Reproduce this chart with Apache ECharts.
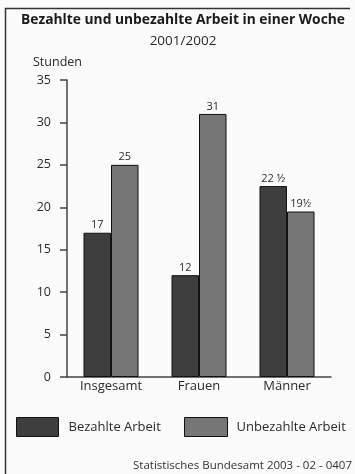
<!DOCTYPE html>
<html><head><meta charset="utf-8">
<script src="https://cdn.jsdelivr.net/npm/echarts@6/dist/echarts.min.js"></script>
<style>html,body{margin:0;padding:0;background:#fbfbfb}#c{width:355px;height:474px}</style>
</head><body><div id="c"></div>
<script>
var categories = ['Insgesamt', 'Frauen', 'Männer'];
var paidValues = [17, 12, 22.5];
var unpaidValues = [25, 31, 19.5];
var paidLabels = ['17', '12', '22 ½'];
var unpaidLabels = ['25', '31', '19½'];
var seriesNames = ['Bezahlte Arbeit', 'Unbezahlte Arbeit'];
var titleText = 'Bezahlte und unbezahlte Arbeit in einer Woche';
var subtitleText = '2001/2002';
var unitText = 'Stunden';
var sourceText = 'Statistisches Bundesamt 2003 - 02 - 0407';

var FONT = 'Open Sans';
var chart = echarts.init(document.getElementById('c'));
chart.setOption({
  backgroundColor: '#fbfbfb',
  animation: false,
  textStyle: {fontFamily: FONT},
  title: [{
    text: titleText, left: 183, textAlign: 'center', top: 13, padding: 0,
    textStyle: {fontFamily: FONT, fontSize: 13.8, fontWeight: 'bold', color: '#1a1a1a'}
  }, {
    text: subtitleText, left: 183, textAlign: 'center', top: 34, padding: 0,
    textStyle: {fontFamily: FONT, fontSize: 13.5, fontWeight: 'normal', color: '#2a2a2a'}
  }, {
    text: sourceText, right: 3, top: 460, padding: 0,
    textStyle: {fontFamily: FONT, fontSize: 11.5, fontWeight: 'normal', color: '#333'}
  }],
  legend: [{
    data: [seriesNames[0]], left: 16, top: 417, padding: 0, icon: 'rect',
    itemWidth: 42, itemHeight: 19,
    itemStyle: {borderColor: '#111', borderWidth: 1},
    textStyle: {fontFamily: FONT, fontSize: 13, color: '#2a2a2a', padding: [0, 0, 0, 5]}
  }, {
    data: [seriesNames[1]], left: 184, top: 417, padding: 0, icon: 'rect',
    itemWidth: 43, itemHeight: 19,
    itemStyle: {borderColor: '#111', borderWidth: 1},
    textStyle: {fontFamily: FONT, fontSize: 13, color: '#2a2a2a', padding: [0, 0, 0, 4]}
  }],
  grid: {left: 67, right: 24, top: 80, bottom: 97},
  xAxis: {
    type: 'category', data: categories,
    axisLine: {lineStyle: {color: '#444', width: 1.5}},
    axisTick: {show: false},
    axisLabel: {fontFamily: FONT, fontSize: 13, color: '#2a2a2a', margin: 3}
  },
  yAxis: {
    type: 'value', min: 0, max: 35, interval: 5,
    name: unitText, nameLocation: 'end', nameGap: 11,
    nameTextStyle: {fontFamily: FONT, fontSize: 12.5, color: '#2a2a2a', align: 'left', padding: [0, 0, 0, -34]},
    axisLine: {show: true, lineStyle: {color: '#444', width: 1.5}},
    axisTick: {show: true, length: 7, lineStyle: {color: '#444', width: 1.5}},
    axisLabel: {fontFamily: FONT, fontSize: 12.5, color: '#2a2a2a', margin: 16},
    splitLine: {show: false}
  },
  graphic: [{
    type: 'polyline', silent: true,
    shape: {points: [[5.5, 474], [5.5, 8.5], [350, 8.5]]},
    style: {stroke: '#333', lineWidth: 1.5, fill: null}
  }],
  series: [{
    name: seriesNames[0], type: 'bar', data: paidValues,
    barWidth: 27.5, barGap: '0%',
    itemStyle: {color: '#3e3e3e', borderColor: '#111', borderWidth: 1},
    label: {show: true, position: 'top', distance: 2, fontFamily: FONT, fontSize: 11, color: '#2a2a2a',
      formatter: function (p) { return paidLabels[p.dataIndex]; }}
  }, {
    name: seriesNames[1], type: 'bar', data: unpaidValues,
    barWidth: 27.5, barGap: '0%',
    itemStyle: {color: '#767676', borderColor: '#111', borderWidth: 1},
    label: {show: true, position: 'top', distance: 2, fontFamily: FONT, fontSize: 11, color: '#2a2a2a',
      formatter: function (p) { return unpaidLabels[p.dataIndex]; }}
  }]
});
</script></body></html>
